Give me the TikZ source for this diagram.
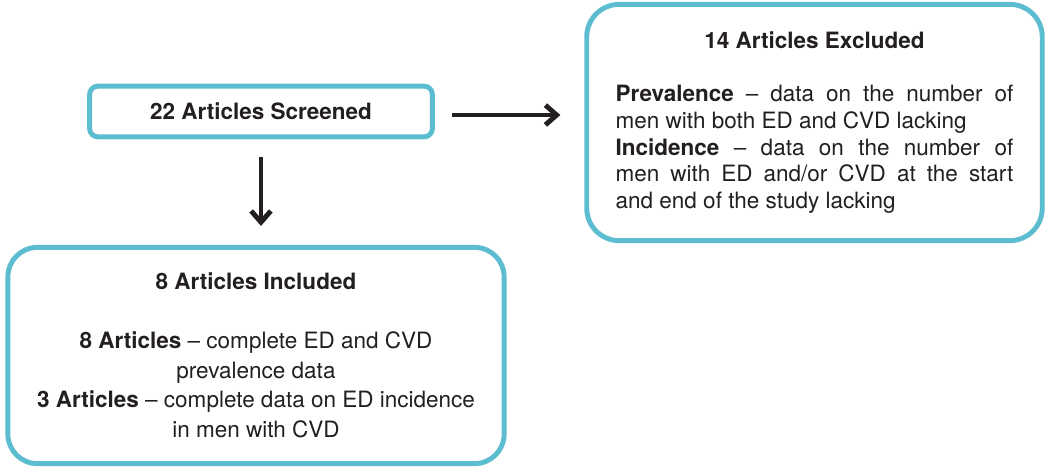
\documentclass[tikz,border=0pt]{standalone}
\usepackage{fontspec}
\setmainfont{TeX Gyre Heros}
\usetikzlibrary{arrows.meta}
\definecolor{boxcyan}{RGB}{92,188,208}
\definecolor{inkgray}{RGB}{35,31,32}

\begin{document}
\begin{tikzpicture}[x=0.025cm, y=-0.025cm,
        every node/.style={text=inkgray},
        flowbox/.style={draw=boxcyan, line width=3.5pt, fill=white, inner sep=0pt},
        flowarrow/.style={draw=inkgray, line width=3.5pt, -{Straight Barb[length=8pt,width=14pt]}}]
        \useasboundingbox (0,0) rectangle (1050,474);

        % Articles screened
        \node[flowbox, rounded corners=6pt, minimum width=243.8pt, minimum height=36.1pt,
              font=\fontsize{16}{19}\selectfont\bfseries] (screened) at (261,111.5) {22 Articles Screened};

        % Articles excluded
        \node[flowbox, rounded corners=23pt, minimum width=323.9pt, minimum height=168pt,
              text width=282.8pt, align=justify, font=\fontsize{16}{19}\selectfont] (excluded) at (814.5,122.5)
            {\hyphenpenalty=10000\tolerance=9999
             {\centering\bfseries 14 Articles Excluded\par}\vspace{\baselineskip}
             \textbf{Prevalence} -- data on the number of men with both ED and CVD lacking\\
             \textbf{Incidence} -- data on the number of\linebreak men with ED and/or CVD at the start\linebreak and end of the study lacking};

        % Articles included
        \node[flowbox, rounded corners=21pt, minimum width=352.9pt, minimum height=153.8pt,
              align=center, font=\fontsize{16}{21}\selectfont] (included) at (256,355.5)
            {{\bfseries 8 Articles Included}\\[21pt]
             \textbf{8 Articles} -- complete ED and CVD\\ prevalence data\\
             \textbf{3 Articles} -- complete data on ED incidence\\ in men with CVD};

        % Arrows between boxes
        \coordinate (arrowstart) at ([yshift=-2.5pt]screened.east);
        \draw[flowarrow, shorten <=12pt, shorten >=17pt] (arrowstart) -- (arrowstart -| excluded.west);
        \draw[flowarrow, shorten <=12.8pt, shorten >=13.5pt] (screened.south) -- (screened.south |- included.north);
    \end{tikzpicture}
\end{document}
